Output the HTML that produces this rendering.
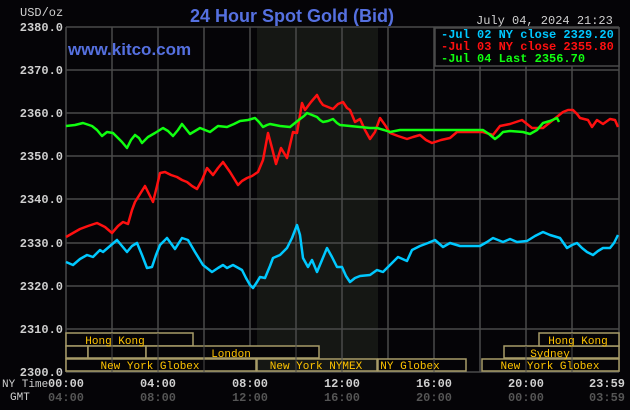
<!DOCTYPE html>
<html><head><meta charset="utf-8"><style>
html,body{margin:0;padding:0;background:#050407;}
svg{display:block}
.m{font-family:"Liberation Mono","DejaVu Sans Mono",monospace;}
.s{font-family:"Liberation Sans","DejaVu Sans",sans-serif;}
</style></head><body>
<svg width="630" height="410" viewBox="0 0 630 410" xmlns="http://www.w3.org/2000/svg">
<rect width="630" height="410" fill="#050407"/>
<rect x="257" y="27" width="121" height="345" fill="#151714"/>
<g stroke="#4a4a4a" stroke-width="1.5" fill="none">
<path d="M66 27V372M112 27V372M158 27V372M204 27V372M250 27V372M296 27V372M342 27V372M388 27V372M434 27V372M480 27V372M526 27V372M572 27V372M619 27V372"/>
<path d="M66 27H619M66 70H619M66 113H619M66 156H619M66 199H619M66 243H619M66 286H619M66 329H619M66 372H619"/>
</g>
<g class="m" font-size="12" font-weight="bold" fill="#d0d0d0" text-anchor="end">
<text x="63" y="31">2380.0</text><text x="63" y="74">2370.0</text><text x="63" y="117">2360.0</text><text x="63" y="160">2350.0</text><text x="63" y="203">2340.0</text><text x="63" y="247">2330.0</text><text x="63" y="290">2320.0</text><text x="63" y="333">2310.0</text><text x="63" y="376">2300.0</text>
</g>
<text class="m" x="20" y="16" font-size="12" fill="#d0d0d0">USD/oz</text>
<text class="s" x="190" y="22" font-size="18" font-weight="bold" fill="#5570e0">24 Hour Spot Gold (Bid)</text>
<text class="s" x="68" y="55" font-size="17" font-weight="bold" fill="#5570e0">www.kitco.com</text>
<text class="m" x="476" y="24" font-size="12" fill="#d0d0d0">July 04, 2024 21:23</text>
<rect x="435" y="28" width="184" height="38" fill="#050407" stroke="#4a4a4a" stroke-width="1.5"/>
<g class="m" font-size="12" font-weight="bold">
<text x="441" y="38" fill="#00c8ff">-Jul 02 NY close 2329.20</text>
<text x="441" y="50" fill="#ff1010">-Jul 03 NY close 2355.80</text>
<text x="441" y="62" fill="#10ff10">-Jul 04 Last 2356.70</text>
</g>
<g fill="none" stroke-width="2.5" stroke-linejoin="round">
<polyline stroke="#00c8ff" points="66,262 73,265 80,259 87,255 93,257 100,250 103,252 110,246 117,240 122,246 127,252 132,246 137,243 142,255 147,268 152,267 156,255 160,245 167,238 175,249 182,238 188,240 195,252 203,265 212,272 218,268 223,265 227,268 233,265 242,270 246,278 250,285 253,288 257,282 260,277 265,278 270,266 273,258 280,255 287,248 292,238 297,225 300,235 303,258 308,267 312,260 317,272 322,260 327,248 332,257 337,267 342,267 346,276 350,282 355,278 360,276 370,275 377,270 383,272 390,265 398,257 407,261 412,250 420,246 428,243 435,240 443,247 450,243 460,246 480,246 487,242 493,238 503,242 510,239 517,242 527,241 535,236 543,232 550,235 560,238 567,248 572,245 577,243 582,248 587,252 593,255 598,251 603,248 610,248 614,243 618,235"/>
<polyline stroke="#ff1010" points="66,237 73,233 80,229 88,226 97,223 105,227 112,233 118,226 123,222 128,224 132,210 135,202 140,194 145,186 149,194 153,202 157,186 160,173 165,172 171,175 177,177 182,180 187,182 192,186 197,189 202,180 207,168 213,175 218,168 223,162 230,172 238,185 242,181 247,178 252,176 258,172 263,160 268,133 272,148 276,164 281,148 287,158 290,145 293,132 297,133 300,115 302,103 305,110 311,102 317,95 320,101 323,105 328,107 333,109 338,104 343,102 347,108 350,110 355,122 360,119 365,130 370,139 375,132 380,118 385,125 390,133 398,136 407,139 413,137 420,135 426,140 432,143 441,140 450,138 457,132 470,132 483,132 493,135 500,126 510,124 516,122 522,120 527,124 532,128 543,128 548,124 553,120 558,116 563,112 568,110 573,110 577,114 580,118 588,120 592,127 597,120 603,124 610,119 615,120 618,127"/>
<polyline stroke="#10ff10" points="66,126 75,125 83,123 92,126 97,130 102,136 107,132 113,133 118,138 122,142 127,148 131,140 135,135 139,138 142,143 148,137 155,133 163,128 168,131 173,136 178,130 182,124 186,129 190,134 195,131 200,128 205,130 210,132 214,129 218,126 227,127 234,124 240,121 248,120 255,118 259,122 263,127 267,125 270,124 280,126 290,127 295,123 300,119 304,116 307,113 312,115 317,117 320,120 323,122 328,121 333,119 337,123 340,125 350,126 360,127 370,128 377,128 384,130 390,132 400,130 420,130 440,130 460,130 483,130 489,134 495,139 499,136 503,132 510,131 523,132 530,134 537,130 543,123 550,121 557,118 559,122"/>
</g>
<g fill="#050407" stroke="#a89c68" stroke-width="1.5">
<rect x="66" y="333" width="127" height="13"/>
<rect x="66" y="346" width="22" height="12"/><rect x="88" y="346" width="58" height="12"/><rect x="146" y="346" width="173" height="12"/>
<rect x="66" y="359" width="190" height="12"/>
<rect x="257" y="359" width="120" height="12" fill="#151714"/>
<rect x="378" y="359" width="88" height="12"/>
<rect x="482" y="359" width="137" height="12"/>
<rect x="504" y="346" width="115" height="12"/>
<rect x="539" y="333" width="80" height="13"/>
</g>
<g stroke="#4a4a4a" stroke-width="1" fill="none"><path d="M112 333V372M158 333V372M204 333V372M296 333V372M342 333V372M434 359V372M526 346V372M572 333V372"/></g>
<g class="m" font-size="11" fill="#ffc400" text-anchor="middle">
<text x="115" y="344">Hong Kong</text>
<text x="231" y="357">London</text>
<text x="150" y="369">New York Globex</text>
<text x="316" y="369">New York NYMEX</text>
<text x="410" y="369">NY Globex</text>
<text x="550" y="369">New York Globex</text>
<text x="550" y="357">Sydney</text>
<text x="578" y="344">Hong Kong</text>
</g>
<g class="m" font-size="12" font-weight="bold" fill="#d0d0d0" text-anchor="middle">
<text x="66" y="387">00:00</text><text x="158" y="387">04:00</text><text x="250" y="387">08:00</text><text x="342" y="387">12:00</text><text x="434" y="387">16:00</text><text x="526" y="387">20:00</text><text x="607" y="387">23:59</text>
</g>
<g class="m" font-size="12" font-weight="bold" fill="#555" text-anchor="middle">
<text x="66" y="401">04:00</text><text x="158" y="401">08:00</text><text x="250" y="401">12:00</text><text x="342" y="401">16:00</text><text x="434" y="401">20:00</text><text x="526" y="401">00:00</text><text x="607" y="401">03:59</text>
</g>
<text class="m" x="2" y="387" font-size="11" fill="#d0d0d0">NY Time</text>
<text class="m" x="10" y="400" font-size="11" fill="#d0d0d0">GMT</text>
</svg>
</body></html>
